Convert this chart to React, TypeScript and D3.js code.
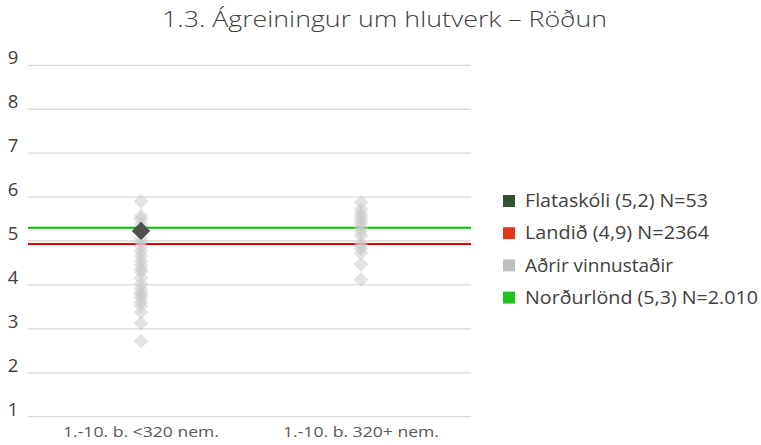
import React from "react";
import * as d3 from "d3";

const categories = ["1.-10. b. <320 nem.", "1.-10. b. 320+ nem."];
const othersSmall = [5.9, 5.57, 5.5, 5.38, 5.05, 4.97, 4.87, 4.76, 4.66, 4.55, 4.46, 4.36, 4.3, 4.16, 4.02, 3.92, 3.83, 3.77, 3.7, 3.6, 3.52, 3.38, 3.13, 2.72];
const othersLarge = [5.88, 5.72, 5.62, 5.55, 5.47, 5.4, 5.3, 5.22, 5.12, 4.95, 4.88, 4.82, 4.72, 4.47, 4.12];
const schoolValue = { category: categories[0], value: 5.23 };
const countryValue = 4.93;
const nordicValue = 5.3;
const yTicks = [1, 2, 3, 4, 5, 6, 7, 8, 9];
const legendItems = [
  { label: "Flataskóli (5,2) N=53", color: "#2e5330" },
  { label: "Landið (4,9) N=2364", color: "#e0391a" },
  { label: "Aðrir vinnustaðir", color: "#bfbfbf" },
  { label: "Norðurlönd (5,3) N=2.010", color: "#1ec41e" },
];
const title = "1.3. Ágreiningur um hlutverk – Röðun";

const legendTextWidths = [183, 184, 148, 233];

export default function App() {
  const W = 761, H = 445;
  const x = d3.scaleBand<string>().domain(categories).range([31, 471]);
  const y = d3.scaleLinear().domain([1, 9]).range([416.7, 65.3]);
  const font = "'Open Sans', sans-serif";
  const sq = d3.symbol().type(d3.symbolSquare);
  const small = sq.size(108)()!;
  const big = sq.size(170)()!;
  const others = [
    ...othersSmall.map((v) => ({ c: categories[0], v })),
    ...othersLarge.map((v) => ({ c: categories[1], v })),
  ];
  const cx = (c: string) => (x(c) as number) + x.bandwidth() / 2;
  return (
    <svg width={W} height={H} style={{ position: "absolute", left: 0, top: 0, background: "#fff" }} fontFamily={font} fontWeight={300}>
      <text x={384.5} y={27} textAnchor="middle" fontSize={22.5} fill="#404040" textLength={445} lengthAdjust="spacingAndGlyphs">{title}</text>
      {yTicks.map((t) => (
        <g key={t}>
          <line x1={28} x2={471} y1={y(t)} y2={y(t)} stroke="#d9d9d9" strokeWidth={1.3} />
          <text x={13} y={y(t)} dy="-0.05em" textAnchor="middle" fontSize={18.5} fontWeight={400} fill="#404040">{t}</text>
        </g>
      ))}
      {categories.map((c) => (
        <text key={c} x={cx(c)} y={437} textAnchor="middle" fontSize={14.5} fontWeight={400} fill="#595959" textLength={156} lengthAdjust="spacingAndGlyphs">{c}</text>
      ))}
      <line x1={28} x2={471} y1={y(countryValue)} y2={y(countryValue)} stroke="#e80000" strokeWidth={2} />
      <line x1={28} x2={471} y1={y(nordicValue)} y2={y(nordicValue)} stroke="#00c000" strokeWidth={2} />
      {others.map((d, i) => (
        <path key={i} d={small} transform={`translate(${cx(d.c)},${y(d.v)}) rotate(45)`} fill="#c8c8c8" fillOpacity={0.5} />
      ))}
      <path d={big} transform={`translate(${cx(schoolValue.category)},${y(schoolValue.value)}) rotate(45)`} fill="#505050" />
      {legendItems.map((l, i) => (
        <g key={l.label} transform={`translate(503,${201 + i * 32.2})`}>
          <rect x={0} y={-6} width={12} height={12} fill={l.color} />
          <text x={22} y={0} dy="0.35em" fontSize={17.5} fontWeight={400} fill="#404040" textLength={legendTextWidths[i]} lengthAdjust="spacingAndGlyphs">{l.label}</text>
        </g>
      ))}
    </svg>
  );
}
